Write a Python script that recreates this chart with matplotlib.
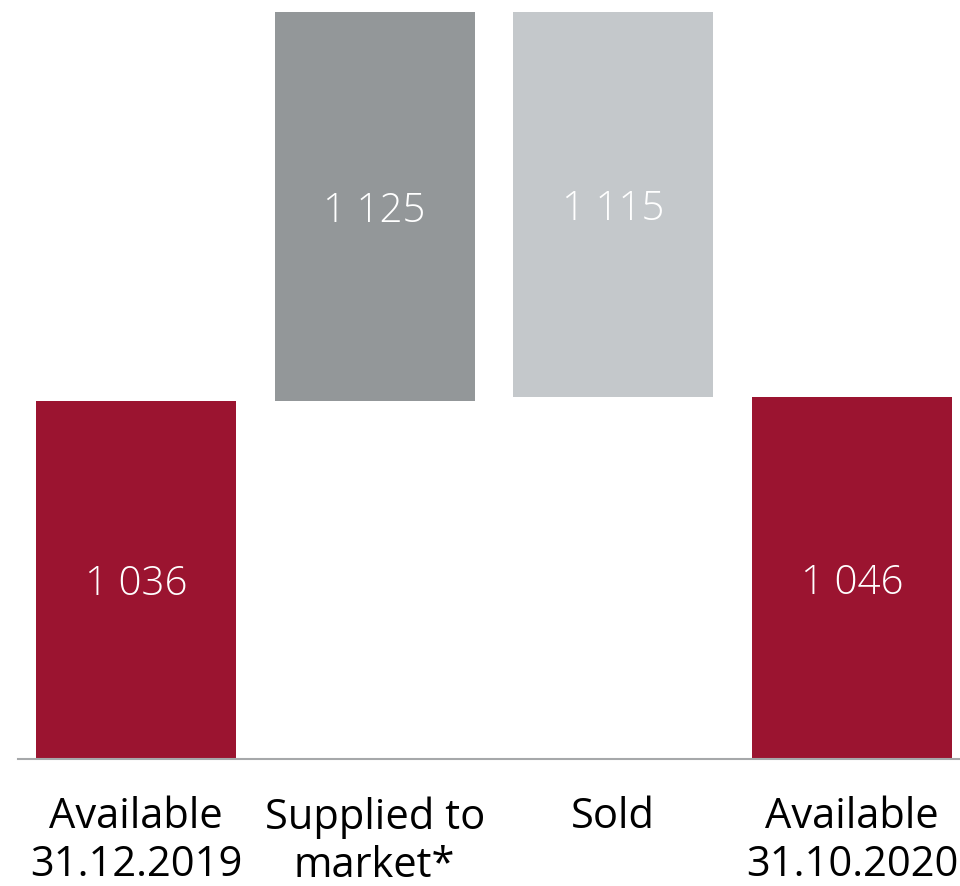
import matplotlib.pyplot as plt

# Inventory movement, units
categories = ["Available\n31.12.2019", "Supplied to\nmarket*", "Sold", "Available\n31.10.2020"]
opening = 1036
supplied = 1125
sold = 1115
closing = 1046

values = [opening, supplied, sold, closing]
bottoms = [0, opening, opening + supplied - sold, 0]
heights = [opening, supplied, sold, closing]
colors = ["#9B1430", "#939799", "#C4C8CB", "#9B1430"]

fig = plt.figure(figsize=(9.6, 8.86), dpi=100)
ax = fig.add_axes([18 / 960, 127 / 886, 942 / 960, 759 / 886])

x = range(len(categories))
bars = ax.bar(x, heights, bottom=bottoms, width=0.838, color=colors)

for b, v in zip(bars, values):
    label = f"{v:,}".replace(",", " ")
    ax.text(b.get_x() + b.get_width() / 2, b.get_y() + b.get_height() / 2, label,
            ha="center", va="center_baseline", color="white", fontsize=29,
            family="Open Sans", fontweight="light")

ax.set_xlim(-0.494, 3.452)
ax.set_ylim(0, 2196)
ax.set_xticks(list(x))
ax.set_xticklabels(categories, fontsize=30, family="Open Sans", linespacing=1.18)
ax.tick_params(axis="x", length=0, pad=27)
ax.set_yticks([])
for side in ["left", "right", "top"]:
    ax.spines[side].set_visible(False)
ax.spines["bottom"].set_color("#A6A8AA")
ax.spines["bottom"].set_linewidth(1.5)

fig.savefig("out.png", dpi=100)
